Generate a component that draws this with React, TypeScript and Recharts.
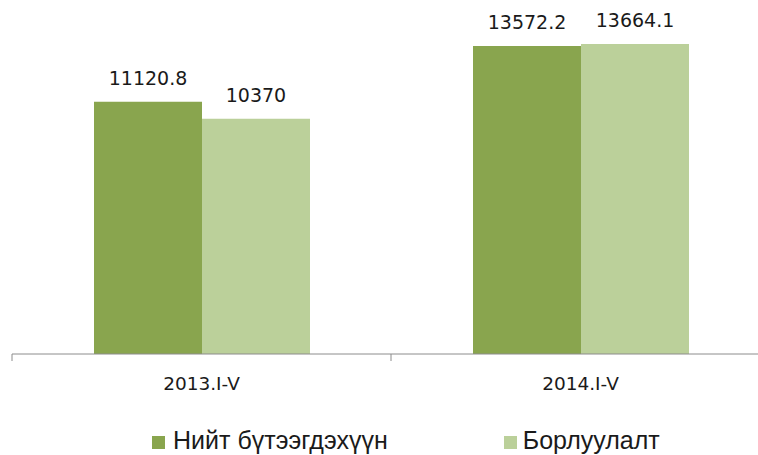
import React from 'react';
import { BarChart, Bar, XAxis, YAxis, LabelList } from 'recharts';

// categories and series
const periods = ['2013.I-V', '2014.I-V'];
const production = [11120.8, 13572.2];
const sales = [10370, 13664.1];
const seriesNames = ['Нийт бүтээгдэхүүн', 'Борлуулалт'];
const seriesColors = ['#89a54e', '#bbd09a'];

const chartData = periods.map((p, i) => ({
  name: p,
  production: production[i],
  sales: sales[i],
}));

const AXIS_COLOR = '#8c8c8c';
const TEXT_FONT = 'DejaVu Sans';

// Excel-style tick: label under the band centre, tick marks on band edges
const CategoryTick = (props: any) => {
  const { x, y, payload, index, visibleTicksCount } = props;
  const half = payload?.offset ?? 189;
  const isLast = index === (visibleTicksCount ?? periods.length) - 1;
  return (
    <g>
      <line x1={x - half} y1={y} x2={x - half} y2={y + 7} stroke={AXIS_COLOR} />
      {isLast && <line x1={x + half} y1={y} x2={x + half} y2={y + 7} stroke={AXIS_COLOR} />}
      <text
        x={x}
        y={y + 36}
        textAnchor="middle"
        fill="#1a1a1a"
        fontSize={18.5}
        fontFamily={TEXT_FONT}
      >
        {payload.value}
      </text>
    </g>
  );
};

export default function App() {
  return (
    <div
      style={{
        position: 'fixed',
        top: 0,
        left: 0,
        width: 758,
        height: 455,
        overflow: 'hidden',
        background: '#fff',
      }}
    >
      <BarChart
        width={770}
        height={455}
        data={chartData}
        margin={{ top: 44, right: 0, left: 12, bottom: 0 }}
        barGap={0}
      >
        <XAxis
          dataKey="name"
          height={101}
          stroke={AXIS_COLOR}
          tickLine={false}
          tickSize={0}
          tickMargin={0}
          tick={<CategoryTick />}
          interval={0}
        />
        <YAxis hide domain={[0, 'dataMax']} />
        <Bar dataKey="production" fill={seriesColors[0]} barSize={108} isAnimationActive={false}>
          <LabelList
            dataKey="production"
            position="top"
            offset={17}
            fill="#1a1a1a"
            fontSize={19}
            fontFamily={TEXT_FONT}
          />
        </Bar>
        <Bar dataKey="sales" fill={seriesColors[1]} barSize={108} isAnimationActive={false}>
          <LabelList
            dataKey="sales"
            position="top"
            offset={17}
            fill="#1a1a1a"
            fontSize={19}
            fontFamily={TEXT_FONT}
          />
        </Bar>
      </BarChart>

      {/* legend */}
      <div
        style={{
          position: 'absolute',
          top: 428,
          left: 152,
          display: 'flex',
          fontFamily: '"Liberation Sans", Arial, sans-serif',
          fontSize: 25,
          lineHeight: '25px',
          color: '#1a1a1a',
          whiteSpace: 'nowrap',
        }}
      >
        {seriesNames.map((name, i) => (
          <div
            key={name}
            style={{ display: 'flex', alignItems: 'center', marginRight: i === 0 ? 116 : 0 }}
          >
            <span
              style={{
                display: 'inline-block',
                width: 13,
                height: 13,
                marginTop: 3,
                marginRight: i === 0 ? 8 : 6,
                background: seriesColors[i],
              }}
            />
            <span>{name}</span>
          </div>
        ))}
      </div>
    </div>
  );
}
